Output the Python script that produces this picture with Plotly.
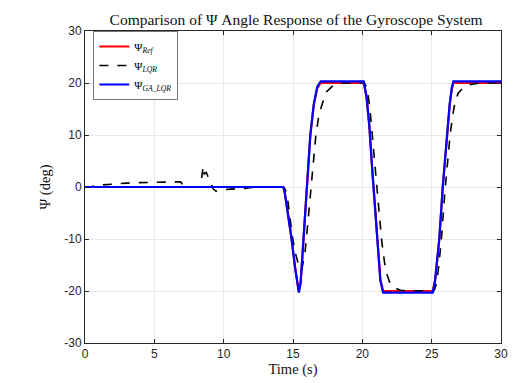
import plotly.graph_objects as go

# Reference signal (deg)
t_ref = [0, 14.3, 14.4, 14.6, 14.9, 15.15, 15.3, 15.42, 15.55, 15.75, 16.0, 16.25, 16.5, 16.75, 17.0,
         20.1, 20.3, 20.5, 20.7, 20.9, 21.1, 21.3, 21.5,
         25.08, 25.25, 25.4, 25.55, 25.8, 26.09, 26.3, 26.45, 26.56, 30]
psi_ref = [0, 0, -1, -4.5, -10, -15.5, -18.5, -20, -18.3, -10, 0, 10, 15.8, 19, 20,
           20, 17.3, 11.8, 3.8, -4, -12, -17.8, -20,
           -20, -17.8, -14, -10, 0, 10, 15.8, 18.8, 20, 20]

# LQR response (deg)
t_lqr = [0, 0.5, 1, 2, 3, 4, 5, 6, 6.9, 7.1, 7.3, 8.2, 8.35, 8.45, 8.52, 8.6, 8.75, 8.9, 9.05, 9.25,
         9.45, 9.8, 10.5, 11.5, 12.0, 12.5, 14.3, 14.45, 14.6, 14.8, 14.95, 15.2, 15.45, 15.62,
         15.85, 16.05, 16.25, 16.45, 16.65, 16.85, 17.05, 17.4, 17.9, 18.6,
         20.15, 20.35, 20.55, 20.75, 21.0, 21.2, 21.4, 21.6, 21.8, 22.0, 22.3, 22.8,
         25.0, 25.2, 25.35, 25.5, 25.7, 25.95, 26.15, 26.33, 26.5, 26.66, 26.9, 27.3, 27.8, 28.5, 30]
psi_lqr = [0, 0.1, 0.35, 0.6, 0.75, 0.85, 0.95, 1.0, 1.0, 0.2, 0.0, 0.0, 0.6, 2.5, 4.0, 2.5, 2.8, 1.8, 0.8, -0.4,
           -0.8, -0.6, -0.4, -0.3, -0.1, 0, 0, -0.5, -2, -6, -9.5, -13, -15.5, -16,
           -13, -7.5, -1.5, 4.5, 10, 13.5, 15.5, 18.3, 19.5, 20,
           20, 19, 15, 9, 1.5, -5, -10.5, -14.5, -17, -18.5, -19.4, -19.9,
           -20, -19.8, -18.5, -15.5, -10, -1, 5, 10, 13.5, 16, 18, 19.2, 19.7, 20, 20]

# GA-LQR response (deg)
t_ga = [0, 14.3, 14.4, 14.6, 14.9, 15.15, 15.3, 15.42, 15.55, 15.75, 16.0, 16.25, 16.5, 16.75, 17.0,
        20.1, 20.3, 20.5, 20.7, 20.9, 21.1, 21.3, 21.5,
        25.08, 25.25, 25.4, 25.55, 25.8, 26.09, 26.3, 26.45, 26.56, 30]
psi_ga = [0, 0, -1, -4.5, -10, -15.5, -18.8, -20.3, -18.5, -10, 0, 10, 16, 19.3, 20.3,
          20.3, 17.5, 12, 4, -4, -12, -18, -20.3,
          -20.3, -18, -14, -10, 0, 10, 16, 19, 20.3, 20.3]

x_ticks = [0, 5, 10, 15, 20, 25, 30]
y_ticks = [-30, -20, -10, 0, 10, 20, 30]

SERIF = "Liberation Serif, DejaVu Serif, serif"

fig = go.Figure()
fig.add_trace(go.Scatter(x=t_ref, y=psi_ref, mode="lines", name="Ψ<sub><i>Ref</i></sub>",
                         line=dict(color="#ff0000", width=2.2)))
fig.add_trace(go.Scatter(x=t_lqr, y=psi_lqr, mode="lines", name="Ψ<sub><i>LQR</i></sub>",
                         line=dict(color="#000000", width=1.6, dash="dash")))
fig.add_trace(go.Scatter(x=t_ga, y=psi_ga, mode="lines", name="Ψ<sub><i>GA_LQR</i></sub>",
                         line=dict(color="#0000ff", width=2.2)))

axis_common = dict(
    showline=True, linecolor="#262626", linewidth=1, mirror="ticks",
    ticks="inside", ticklen=4, tickcolor="#262626",
    showgrid=True, gridcolor="#e8e8e8", gridwidth=1,
    zeroline=False,
    tickfont=dict(family="Liberation Sans, Arial", size=12, color="#262626"),
)

fig.update_layout(
    width=519, height=383,
    margin=dict(l=85, r=11, t=31, b=37),
    paper_bgcolor="white", plot_bgcolor="white",
    title=dict(text="Comparison of Ψ Angle Response of the Gyroscope System",
               x=0.5705, xanchor="center", y=0.948, yanchor="middle",
               font=dict(family=SERIF, size=15.5, color="#111111")),
    xaxis=dict(range=[0, 30], tickvals=x_ticks, ticktext=[str(v) for v in x_ticks],
               title=dict(text="Time (s)", standoff=0,
                          font=dict(family=SERIF, size=14.5, color="#111111")),
               **axis_common),
    yaxis=dict(range=[-30, 30], tickvals=y_ticks, ticktext=[str(v) for v in y_ticks],
               title=dict(text="Ψ (deg)", standoff=10,
                          font=dict(family=SERIF, size=14.5, color="#111111")),
               **axis_common),
    legend=dict(x=0.02, y=1.0, xanchor="left", yanchor="top",
                bgcolor="white", bordercolor="#777777", borderwidth=1,
                font=dict(family=SERIF, size=11, color="#000000"),
                tracegroupgap=0, itemwidth=30),
    showlegend=True,
)

fig.write_html("out.html")
